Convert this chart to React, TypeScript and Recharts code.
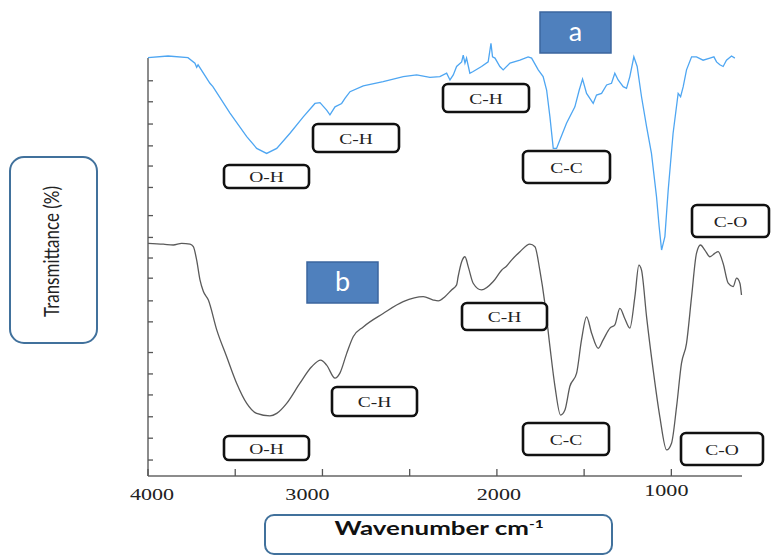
import React from 'react';
import { LineChart, Line, XAxis, YAxis, ReferenceLine } from 'recharts';

// ---- data (wavenumber in cm-1, transmittance in arbitrary %) ----
const aWavenumber = [4000, 3885, 3771, 3731, 3721, 3713, 3645, 3628, 3530, 3434, 3377, 3320, 3262, 3186, 3110, 3043, 3014, 2976, 2957, 2928, 2890, 2871, 2842, 2766, 2652, 2537, 2460, 2384, 2327, 2288, 2269, 2250, 2231, 2202, 2193, 2183, 2174, 2155, 2136, 2088, 2050, 2034, 2025, 2011, 1983, 1964, 1925, 1868, 1821, 1801, 1763, 1735, 1715, 1696, 1677, 1658, 1639, 1601, 1553, 1528, 1509, 1486, 1448, 1429, 1400, 1371, 1343, 1324, 1305, 1276, 1257, 1238, 1215, 1196, 1171, 1142, 1114, 1085, 1070, 1056, 1037, 1018, 990, 961, 947, 932, 913, 884, 856, 818, 779, 756, 741, 722, 703, 684, 655, 636];
const aTransmittance = [99.6, 100.0, 99.6, 98.3, 97.3, 97.9, 93.5, 92.7, 86.4, 80.8, 78.0, 76.8, 78.0, 81.6, 85.5, 88.7, 88.9, 87.1, 86.0, 87.9, 88.7, 89.9, 91.5, 92.9, 93.9, 95.1, 95.5, 94.9, 95.1, 95.9, 94.3, 95.5, 97.5, 98.6, 100.2, 98.3, 99.5, 95.9, 96.3, 97.5, 98.6, 103.0, 99.8, 99.5, 97.5, 96.7, 98.3, 99.0, 99.8, 99.5, 96.7, 95.1, 91.9, 85.5, 78.0, 78.0, 80.0, 84.0, 87.9, 91.9, 94.5, 91.1, 88.7, 90.7, 91.1, 93.1, 93.5, 95.9, 94.3, 92.7, 92.3, 95.1, 99.8, 97.5, 90.3, 83.2, 76.8, 66.5, 59.4, 53.8, 57.0, 68.1, 81.6, 91.1, 90.3, 92.7, 96.7, 99.8, 99.8, 99.0, 99.5, 99.8, 98.6, 97.9, 97.5, 99.0, 100.0, 99.5];

const bWavenumber = [4000, 3912, 3855, 3807, 3759, 3740, 3721, 3702, 3683, 3654, 3606, 3549, 3492, 3434, 3377, 3301, 3262, 3205, 3129, 3062, 3010, 2976, 2928, 2900, 2861, 2823, 2766, 2652, 2537, 2422, 2365, 2336, 2298, 2260, 2231, 2222, 2202, 2183, 2164, 2136, 2088, 2021, 1973, 1944, 1916, 1868, 1811, 1782, 1754, 1725, 1696, 1667, 1635, 1610, 1582, 1543, 1515, 1486, 1457, 1419, 1391, 1352, 1324, 1295, 1267, 1238, 1209, 1186, 1171, 1142, 1104, 1066, 1027, 999, 970, 942, 913, 884, 856, 833, 808, 779, 751, 732, 703, 674, 646, 626, 607, 598];
const bTransmittance = [55.4, 55.2, 55.0, 55.4, 55.2, 54.6, 51.4, 46.7, 44.0, 41.9, 34.8, 28.4, 22.1, 17.3, 14.9, 14.3, 14.9, 17.3, 22.1, 26.0, 27.6, 26.4, 23.3, 24.5, 29.2, 33.2, 35.5, 38.7, 41.5, 42.7, 41.9, 41.7, 42.7, 44.3, 45.5, 47.5, 51.0, 52.2, 49.8, 45.9, 44.3, 46.3, 49.0, 50.0, 51.4, 53.4, 55.2, 54.6, 49.0, 41.1, 30.8, 21.3, 14.5, 15.7, 21.3, 24.5, 32.4, 37.9, 34.0, 30.4, 32.4, 35.2, 36.0, 39.9, 37.5, 35.2, 42.7, 50.2, 49.0, 37.9, 25.2, 14.1, 6.2, 7.8, 16.5, 26.8, 31.6, 42.7, 53.0, 55.0, 53.8, 52.2, 53.0, 53.4, 50.6, 45.9, 45.1, 47.1, 45.9, 43.1];

const xTicks = [4000, 3500, 3000, 2500, 2000, 1500, 1000];
const xTickLabels = ['4000', '', '3000', '', '2000', '', '1000'];
const yTicks = [94.1, 89.1, 83.8, 78.6, 73.8, 68.7, 62.0, 56.8, 51.9, 47.1, 41.7, 36.7, 29.4, 24.3, 19.3, 14.1, 9.0, 3.8];

const peakLabels = ['O-H', 'C-H', 'C-H', 'C-C', 'C-O', 'O-H', 'C-H', 'C-H', 'C-C', 'C-O'];
const sampleLabels = ['a', 'b'];
const yAxisTitle = 'Transmittance (%)';
const xAxisTitle = 'Wavenumber cm';

const seriesA = aWavenumber.map((wn, i) => ({ wn, t: aTransmittance[i] }));
const seriesB = bWavenumber.map((wn, i) => ({ wn, t: bTransmittance[i] }));

// ---- layout (pixels) ----
const peakBoxes = [
  [224, 165, 85, 23],
  [313, 124, 86, 28],
  [443, 84, 86, 28],
  [523, 151, 87, 32],
  [692, 205, 77, 32],
  [224, 436, 85, 24],
  [332, 387, 85, 29],
  [462, 303, 85, 27],
  [523, 423, 86, 32],
  [681, 433, 82, 32],
];
const sampleBoxes = [
  [540, 12, 71, 41],
  [307, 262, 71, 41],
];
const tickNudge: Record<number, [number, number]> = {
  4000: [4, 0],
  3000: [-15, 0],
  2000: [2, 0],
  1000: [-5, -3.5],
};

const SERIF = '"Liberation Serif", "Times New Roman", serif';
const SANS = 'Lato, "Open Sans", sans-serif';

function XTick(props: any) {
  const { x, y, payload } = props;
  const i = xTicks.indexOf(payload.value);
  const label = i >= 0 ? xTickLabels[i] : '';
  if (!label) return <g />;
  const [dx, dy] = tickNudge[payload.value] || [0, 0];
  return (
    <text
      x={0}
      y={0}
      transform={`translate(${x + dx},${y + 30.5 + dy}) scale(1.3,1)`}
      textAnchor="middle"
      fontFamily={SERIF}
      fontSize={17}
      fill="#222"
    >
      {label}
    </text>
  );
}

function YTick() {
  return <g />;
}

export default function App() {
  return (
    <div
      style={{
        position: 'absolute',
        left: 0,
        top: 0,
        width: 772,
        height: 555,
        background: '#fff',
        overflow: 'hidden',
      }}
    >
      <LineChart width={772} height={555} margin={{ top: 14, right: 30, bottom: 49, left: 138 }}>
        <XAxis
          dataKey="wn"
          type="number"
          domain={[595, 4000]}
          reversed
          ticks={xTicks}
          interval={0}
          tickSize={-7}
          tickMargin={0}
          tick={<XTick />}
          axisLine={{ stroke: '#666', strokeWidth: 1.5 }}
          tickLine={{ stroke: '#555', strokeWidth: 1.3 }}
          height={30}
        />
        <YAxis
          type="number"
          dataKey="t"
          domain={[0, 110]}
          ticks={yTicks}
          interval={0}
          tick={<YTick />}
          tickSize={-5}
          axisLine={false}
          tickLine={{ stroke: '#555', strokeWidth: 1.3 }}
          width={10}
        />
        <ReferenceLine
          segment={[
            { x: 4000, y: 0 },
            { x: 4000, y: 99.5 },
          ]}
          stroke="#666"
          strokeWidth={1.5}
        />
        <Line
          data={seriesA}
          dataKey="t"
          type="linear"
          stroke="#4ea6f2"
          strokeWidth={1.3}
          dot={false}
          isAnimationActive={false}
        />
        <Line
          data={seriesB}
          dataKey="t"
          type="monotone"
          stroke="#5a5a5a"
          strokeWidth={1.3}
          dot={false}
          isAnimationActive={false}
        />
      </LineChart>
      <svg
        width={772}
        height={555}
        style={{ position: 'absolute', left: 0, top: 0, pointerEvents: 'none' }}
      >
        {peakBoxes.map(([x, y, w, h], i) => (
          <g key={`p${i}`}>
            <rect x={x} y={y} width={w} height={h} rx={5} ry={5} fill="#fff" stroke="#111" strokeWidth={2.6} />
            <text
              x={0}
              y={0}
              transform={`translate(${x + w / 2},${y + h / 2 + 5.5}) scale(1.3,1)`}
              textAnchor="middle"
              fontFamily={SERIF}
              fontSize={15}
              fill="#222"
            >
              {peakLabels[i]}
            </text>
          </g>
        ))}
        {sampleBoxes.map(([x, y, w, h], i) => (
          <g key={`s${i}`}>
            <rect x={x} y={y} width={w} height={h} fill="#4f80bd" stroke="#3b659e" strokeWidth={1.5} />
            <text
              x={x + w / 2}
              y={y + h / 2 + 8.3}
              textAnchor="middle"
              fontFamily={SANS}
              fontSize={27}
              fill="#fff"
            >
              {sampleLabels[i]}
            </text>
          </g>
        ))}
        <rect x={10} y={157} width={87} height={186} rx={14} ry={14} fill="#fff" stroke="#41719c" strokeWidth={2} />
        <text
          x={0}
          y={0}
          transform="translate(58.5,251.5) rotate(-90) scale(1,1.2)"
          textAnchor="middle"
          fontFamily={SANS}
          fontSize={17}
          fill="#222"
        >
          {yAxisTitle}
        </text>
        <rect x={265} y={515} width={347} height={39} rx={9} ry={9} fill="#fff" stroke="#41719c" strokeWidth={2} />
        <text
          x={0}
          y={0}
          transform="translate(439,535) scale(1.4,1)"
          textAnchor="middle"
          fontFamily={SANS}
          fontWeight="bold"
          fontSize={18.5}
          fill="#111"
        >
          {xAxisTitle}
          <tspan dy={-7} fontSize={11}>
            -1
          </tspan>
        </text>
      </svg>
    </div>
  );
}
